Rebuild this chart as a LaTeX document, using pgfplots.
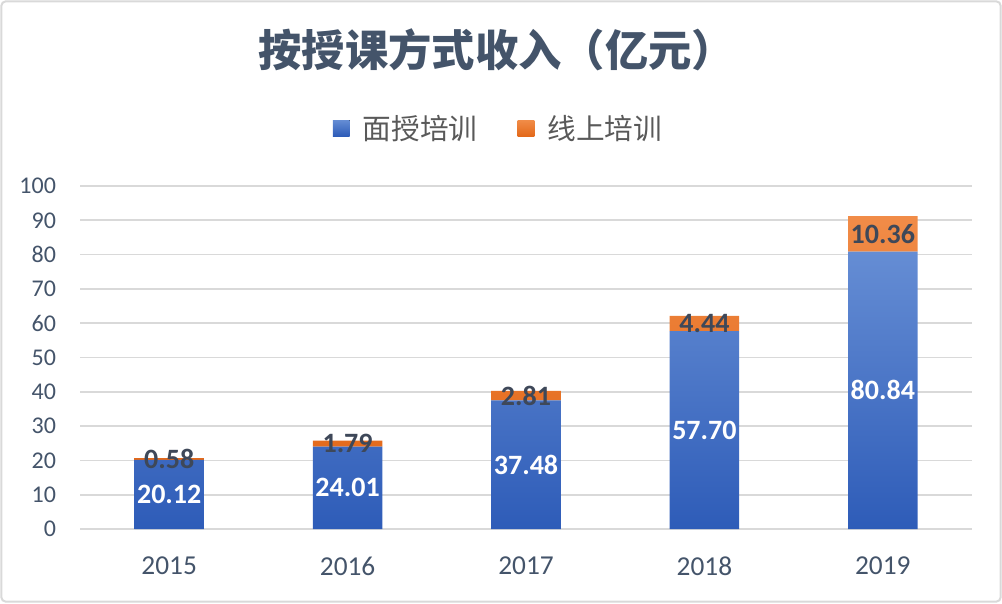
\documentclass[border=0pt]{standalone}
\usepackage{pgfplots}
\pgfplotsset{compat=1.18}
\usepackage{pgfplotstable}
\usepackage{fontspec}
\setmainfont{Carlito}
\newfontfamily\cjk{Noto Sans CJK SC}
\definecolor{txt}{HTML}{44546A}
\definecolor{leg}{HTML}{595959}
\definecolor{gridc}{HTML}{D9D9D9}
\definecolor{blueT}{HTML}{658DD4}
\definecolor{blueB}{HTML}{2E5CB8}
\definecolor{oraT}{HTML}{F18C48}
\definecolor{oraB}{HTML}{E3691A}
\definecolor{lab}{HTML}{3E4859}

\pgfplotstableread{
x face online
0 20.12 0.58
1 24.01 1.79
2 37.48 2.81
3 57.70 4.44
4 80.84 10.36
}\data

\begin{document}
\begin{tikzpicture}
\useasboundingbox (0pt,0pt) rectangle (751.5pt,452.25pt);
\draw[gridc, line width=1.5pt, rounded corners=3pt] (1.1pt,1.1pt) rectangle (750.4pt,451.15pt);
\node[text=txt, font=\cjk\fontsize{32.5}{40}\selectfont\bfseries] at (372.5pt,414.75pt) {按授课方式收入（亿元）};
\begin{axis}[
  at={(60pt,55.5pt)}, anchor=south west, scale only axis,
  width=669pt, height=257.25pt,
  ybar stacked, bar width=0.39,
  xmin=-0.5, xmax=4.5, ymin=0, ymax=100,
  ytick={0,10,...,100}, xtick=data, xticklabels={2015,2016,2017,2018,2019},
  ymajorgrids, grid style={gridc, line width=1.2pt},
  axis line style={draw=none}, tick style={draw=none},
  ticklabel style={text=txt},
  yticklabel style={font=\fontsize{18}{20}\selectfont, xshift=-14.5pt},
  xticklabel style={font=\fontsize{20.5}{22}\selectfont, yshift=-17.5pt},
  /pgf/number format/assume math mode=true,
  legend columns=2,
  legend style={draw=none, fill=none, at={(0.4697,1.169)}, anchor=center,
    font=\cjk\fontsize{21.5}{25}\selectfont, text=leg,
    /tikz/every odd column/.append style={column sep=8pt},
    /tikz/every even column/.append style={column sep=28pt}},
  legend cell align=left,
  legend image code/.code={\fill[#1] (0pt,-6pt) rectangle (12.5pt,6pt);},
  every node near coord/.append style={font=\bfseries\fontsize{21}{24}\selectfont, anchor=center},
]
\addplot[draw=none, top color=blueT, bottom color=blueB,
  visualization depends on={\thisrow{face} \as \rawy},
  nodes near coords={\pgfmathprintnumber[fixed,fixed zerofill,precision=2]{\rawy}},
  nodes near coords style={text=white},
] table[x=x,y=face]{\data};
\addlegendentry{面授培训}
\addplot[draw=none, top color=oraT, bottom color=oraB,
  visualization depends on={\thisrow{online} \as \rawy},
  nodes near coords={\pgfmathprintnumber[fixed,fixed zerofill,precision=2]{\rawy}},
  nodes near coords style={text=lab},
] table[x=x,y=online]{\data};
\addlegendentry{线上培训}
\end{axis}
\end{tikzpicture}
\end{document}
